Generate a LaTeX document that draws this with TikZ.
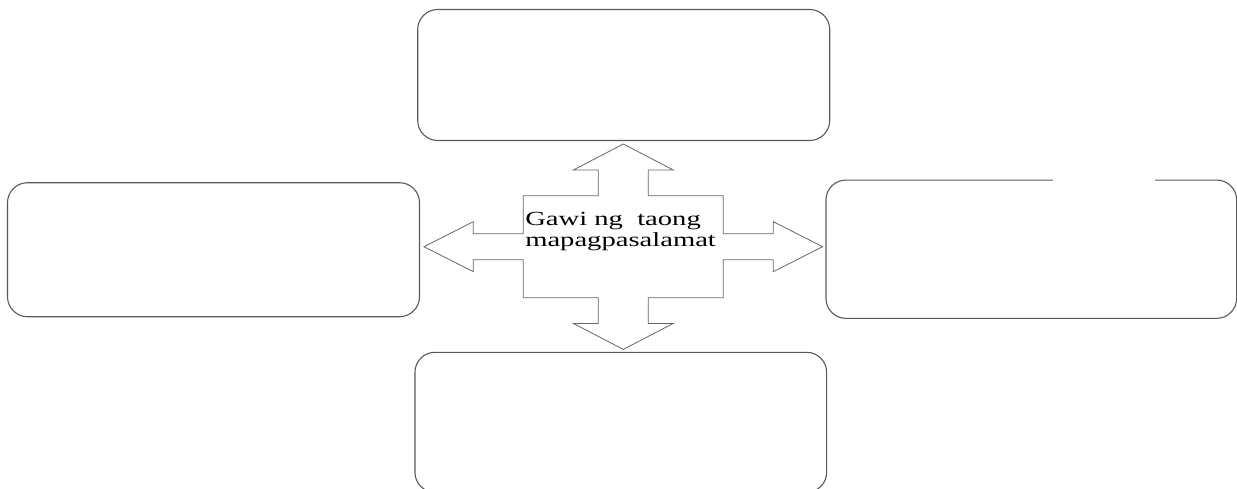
\documentclass[tikz,border=0pt]{standalone}
\usepackage{fontspec}
\setmainfont{Liberation Serif}

\tikzset{
    card/.style={draw=black!65, line width=1.1pt, rounded corners=20pt,
        minimum width=412pt, minimum height=134pt, inner sep=0pt},
    hubarrow/.style={draw=black!60, line width=0.8pt, fill=white}
}

\begin{document}
\begin{tikzpicture}[x=1pt, y=-1pt]
    \useasboundingbox (0,0) rectangle (1237,488);

    % four empty boxes
    \node[card, minimum height=131pt] (up) at (623.7,75) {};
    \node[card] (west) at (213.5,249.7) {};
    \node[card, minimum width=410.7pt, minimum height=138.3pt] (east) at (1031.3,249.2) {};
    \node[card, minimum width=411.7pt, minimum height=140pt] (down) at (620.8,422.3) {};
    \draw[white, line width=2.5pt] (1053,180) -- (1155,180);

    % four-way arrow
    \coordinate (hub) at (623.3,246.7);
    \draw[hubarrow, shift={(hub)}]
        (0,-102.7) -- (50,-76.7) -- (25,-76.7) -- (25,-51) -- (100,-51)
        -- (100,-13) -- (150,-13) -- (150,-25) -- (199.3,0) -- (150,25)
        -- (150,13) -- (100,13) -- (100,51) -- (25,51) -- (25,76.7)
        -- (50,76.7) -- (0,102.7) -- (-50,76.7) -- (-25,76.7) -- (-25,51)
        -- (-100,51) -- (-100,13) -- (-150,13) -- (-150,25) -- (-199.3,0)
        -- (-150,-25) -- (-150,-13) -- (-100,-13) -- (-100,-51) -- (-25,-51)
        -- (-25,-76.7) -- (-50,-76.7) -- cycle;

    \node[font=\fontsize{20}{20.5}\selectfont, align=left, anchor=base west,
        inner sep=0pt, xscale=1.43, transform shape] (label) at (525,246)
        {Gawi ng\ \ taong\\mapagpasalamat};
\end{tikzpicture}
\end{document}
